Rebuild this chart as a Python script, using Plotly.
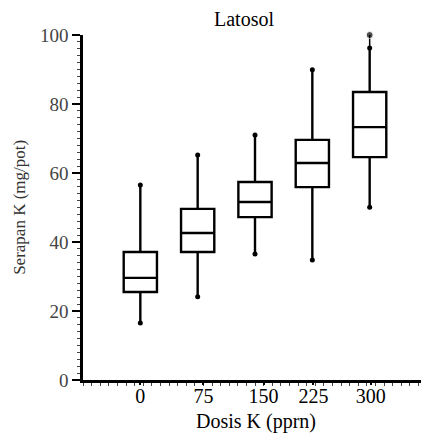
import plotly.graph_objects as go

# ---- data ----
doses = ["0", "75", "150", "225", "300"]
box_positions = [1, 2, 3, 4, 5]
label_positions = [1.0, 2.1, 3.15, 4.02, 5.02]
lower_whisker = [16.5, 24.1, 36.5, 34.8, 50.1]
q1 = [25.5, 37.1, 47.2, 55.9, 64.6]
median = [29.6, 42.6, 51.6, 62.9, 73.3]
q3 = [37.1, 49.6, 57.4, 69.6, 83.5]
upper_whisker = [56.5, 65.2, 71.0, 89.9, 96.2]
outlier_x = [5]
outlier_y = [100]
y_ticks = [0, 20, 40, 60, 80, 100]

SERIF = "Liberation Serif"

fig = go.Figure()
fig.add_trace(go.Box(
    x=box_positions, q1=q1, median=median, q3=q3,
    lowerfence=lower_whisker, upperfence=upper_whisker,
    width=0.58, whiskerwidth=0, boxpoints=False,
    fillcolor="white", line=dict(color="black", width=2.4),
    hoverinfo="skip",
))
fig.add_trace(go.Scatter(
    x=box_positions + box_positions, y=lower_whisker + upper_whisker,
    mode="markers", marker=dict(color="black", size=5), cliponaxis=False,
    hoverinfo="skip",
))
fig.add_trace(go.Scatter(
    x=outlier_x + outlier_x, y=[upper_whisker[-1]] + outlier_y,
    mode="lines+markers", line=dict(color="black", width=1.5),
    marker=dict(color="black", size=[0, 7]), cliponaxis=False,
    hoverinfo="skip",
))

# the page body has an 8px default margin, so the figure is 8px smaller
fig.update_layout(
    width=421, height=436,
    margin=dict(l=75, r=2, t=27, b=64, autoexpand=False),
    plot_bgcolor="white", paper_bgcolor="white",
    showlegend=False,
    font=dict(family=SERIF, color="black"),
    annotations=[
        dict(text="Latosol", xref="paper", yref="paper", x=0.467, y=1.045,
             xanchor="center", yanchor="middle", showarrow=False,
             font=dict(family=SERIF, size=20, color="black")),
        dict(text="Dosis K (pprn)", xref="paper", yref="paper", x=0.504, y=-0.119,
             xanchor="center", yanchor="middle", showarrow=False,
             font=dict(family=SERIF, size=20, color="black")),
        dict(text="Serapan K (mg/pot)", xref="paper", yref="paper", x=-0.185, y=0.5,
             xanchor="center", yanchor="middle", showarrow=False, textangle=-90,
             font=dict(family=SERIF, size=17, color="#333")),
    ],
)
fig.update_xaxes(
    range=[0, 6], tickvals=label_positions, ticktext=doses,
    showline=True, linecolor="black", linewidth=2.5,
    ticks="outside", ticklen=2, tickwidth=1.5, tickcolor="black",
    ticklabelstandoff=-6,
    minor=dict(ticks="outside", ticklen=3, tickwidth=1, tickcolor="#444", dtick=0.15, tick0=0),
    showgrid=False, zeroline=False,
    tickfont=dict(family=SERIF, size=20, color="black"),
)
fig.update_yaxes(
    range=[0, 100], tickvals=y_ticks,
    showline=True, linecolor="black", linewidth=2.5,
    ticks="outside", ticklen=8, tickwidth=2, tickcolor="black",
    minor=dict(ticks="outside", ticklen=3, tickwidth=1, tickcolor="#444", dtick=2, tick0=0),
    showgrid=False, zeroline=False,
    tickfont=dict(family=SERIF, size=19, color="#444"),
)

fig.write_html("out.html")
